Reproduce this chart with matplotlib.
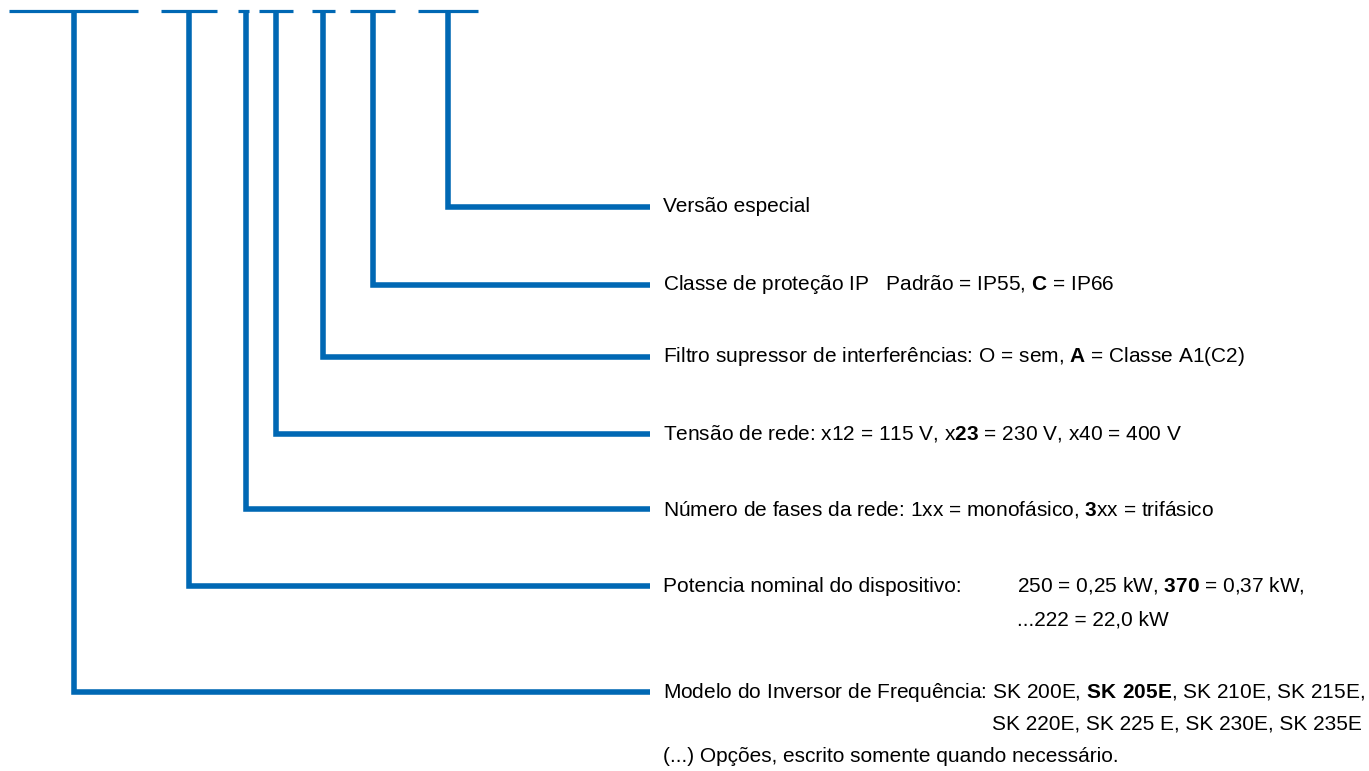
import matplotlib
matplotlib.use("Agg")
import matplotlib.pyplot as plt

# type code key: top segment, drop line and the description line for each field
seg_start = [9, 161, 238, 259, 312, 350, 418]
seg_end = [138, 217, 249, 293, 335, 395, 478]
drop_x = [74, 189, 246, 276, 323, 373, 448]
label_y = [692, 586, 509, 434, 357, 285, 207]
labels = [
    r"Modelo do Inversor de Frequência: SK 200E, $\mathbf{SK\ 205E}$, SK 210E, SK 215E,",
    "Potencia nominal do dispositivo:",
    r"Número de fases da rede: 1xx = monofásico, $\mathbf{3}$xx = trifásico",
    r"Tensão de rede: x12 = 115 V, x$\mathbf{23}$ = 230 V, x40 = 400 V",
    r"Filtro supressor de interferências: O = sem, $\mathbf{A}$ = Classe A1(C2)",
    r"Classe de proteção IP   Padrão = IP55, $\mathbf{C}$ = IP66",
    "Versão especial",
]
power_lines = [r"250 = 0,25 kW, $\mathbf{370}$ = 0,37 kW,", "...222 = 22,0 kW"]
model_line2 = "SK 220E, SK 225 E, SK 230E, SK 235E"
footnote = "(...) Opções, escrito somente quando necessário."

blue = "#0068b4"
top_y = 11
line_end = 650
text_x = 663

plt.rcParams['font.family'] = ['Liberation Sans', 'DejaVu Sans']
plt.rcParams['mathtext.fontset'] = 'custom'
plt.rcParams['mathtext.rm'] = 'Liberation Sans'
plt.rcParams['mathtext.bf'] = 'Liberation Sans:bold'

fig = plt.figure(figsize=(13.69, 7.71), dpi=100)
ax = fig.add_axes([0, 0, 1, 1])
ax.set_xlim(0, 1369)
ax.set_ylim(771, 0)
ax.axis("off")

fs = 15
for i in range(len(labels)):
    ax.plot([seg_start[i], seg_end[i]], [top_y, top_y], color=blue, lw=2.3,
            solid_capstyle="butt")
    ax.plot([drop_x[i], drop_x[i], line_end], [top_y, label_y[i], label_y[i]],
            color=blue, lw=4, solid_capstyle="butt", solid_joinstyle="miter")
    ax.text(text_x, label_y[i], labels[i], fontsize=fs, va="center", ha="left")

# extra lines of the longer descriptions
ax.text(1017, label_y[1], power_lines[0], fontsize=fs, va="center", ha="left")
ax.text(1017, 620, power_lines[1], fontsize=fs, va="center", ha="left")
ax.text(1362, 724, model_line2, fontsize=fs, va="center", ha="right")
ax.text(text_x, 757, footnote, fontsize=fs, va="center", ha="left")

fig.savefig("out.png", dpi=100)
